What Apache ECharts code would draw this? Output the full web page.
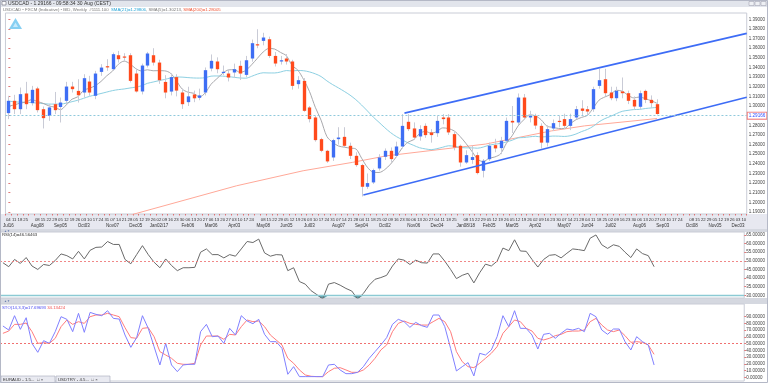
<!DOCTYPE html>
<html><head><meta charset="utf-8">
<script src="https://cdn.jsdelivr.net/npm/echarts@6/dist/echarts.min.js"></script>
<style>html,body{margin:0;padding:0;background:#fff}#c{width:768px;height:383px}</style>
</head><body><div id="c"></div><script>
// ---- categories (weekly) ----
const weeks = [
'2016-07-04','2016-07-11','2016-07-18','2016-07-25','2016-08-01','2016-08-08','2016-08-15','2016-08-22','2016-08-29',
'2016-09-05','2016-09-12','2016-09-19','2016-09-26','2016-10-03','2016-10-10','2016-10-17','2016-10-24','2016-10-31',
'2016-11-07','2016-11-14','2016-11-21','2016-11-28','2016-12-05','2016-12-12','2016-12-19','2016-12-26',
'2017-01-02','2017-01-09','2017-01-16','2017-01-23','2017-01-30','2017-02-06','2017-02-13','2017-02-20','2017-02-27',
'2017-03-06','2017-03-13','2017-03-20','2017-03-27','2017-04-03','2017-04-10','2017-04-17','2017-04-24',
'2017-05-01','2017-05-08','2017-05-15','2017-05-22','2017-05-29','2017-06-05','2017-06-12','2017-06-19','2017-06-26',
'2017-07-03','2017-07-10','2017-07-17','2017-07-24','2017-07-31','2017-08-07','2017-08-14','2017-08-21','2017-08-28',
'2017-09-04','2017-09-11','2017-09-18','2017-09-25','2017-10-02','2017-10-09','2017-10-16','2017-10-23','2017-10-30',
'2017-11-06','2017-11-13','2017-11-20','2017-11-27','2017-12-04','2017-12-11','2017-12-18','2017-12-25',
'2018-01-01','2018-01-08','2018-01-15','2018-01-22','2018-01-29','2018-02-05','2018-02-12','2018-02-19','2018-02-26',
'2018-03-05','2018-03-12','2018-03-19','2018-03-26','2018-04-02','2018-04-09','2018-04-16','2018-04-23','2018-04-30',
'2018-05-07','2018-05-14','2018-05-21','2018-05-28','2018-06-04','2018-06-11','2018-06-18','2018-06-25',
'2018-07-02','2018-07-09','2018-07-16','2018-07-23','2018-07-30','2018-08-06','2018-08-13','2018-08-20','2018-08-27',
'2018-09-03','2018-09-10','2018-09-17','2018-09-24','2018-10-01','2018-10-08','2018-10-15','2018-10-22','2018-10-29',
'2018-11-05','2018-11-12','2018-11-19','2018-11-26','2018-12-03','2018-12-10'];

// ---- USDCAD weekly OHLC ----
const open = [1.2926,1.3054,1.2967,1.3130,1.3030,1.3182,1.2967,1.2898,1.3019,1.2990,
1.3054,1.3202,1.3157,1.3140,1.3254,1.3106,1.3354,1.3413,1.3382,1.3527,
1.3514,1.3527,1.3337,1.3151,1.3420,1.3527,1.3451,1.3250,1.3150,1.3300,
1.3140,1.3040,1.3120,1.3085,1.3140,1.3389,1.3462,1.3344,1.3337,1.3348,
1.3417,1.3323,1.3493,1.3641,1.3676,1.3693,1.3520,1.3462,1.3493,1.3462,
1.3227,1.3261,1.2985,1.2881,1.2656,1.2535,1.2466,1.2656,1.2680,1.2587,
1.2483,1.2387,1.2162,1.2207,1.2352,1.2473,1.2535,1.2483,1.2580,1.2836,
1.2767,1.2684,1.2794,1.2726,1.2718,1.2881,1.2881,1.2708,1.2587,1.2414,
1.2440,1.2490,1.2328,1.2448,1.2594,1.2563,1.2639,1.2846,1.2829,1.3088,
1.2881,1.2898,1.2794,1.2620,1.2767,1.2846,1.2864,1.2794,1.2881,1.2974,
1.2967,1.2967,1.3209,1.3278,1.3140,1.3081,1.3151,1.3133,1.3064,1.2992,
1.3157,1.3064,1.3019];
const close = [1.3054,1.2967,1.3123,1.3019,1.3168,1.2957,1.2874,1.2985,1.2957,1.3036,
1.3202,1.3175,1.3112,1.3289,1.3140,1.3337,1.3399,1.3403,1.3538,1.3486,
1.3503,1.3261,1.3151,1.3420,1.3545,1.3451,1.3268,1.3140,1.3300,1.3160,
1.3019,1.3100,1.3080,1.3110,1.3372,1.3469,1.3382,1.3355,1.3296,1.3382,
1.3337,1.3475,1.3652,1.3631,1.3711,1.3520,1.3441,1.3475,1.3462,1.3209,
1.3268,1.2950,1.2864,1.2646,1.2535,1.2425,1.2646,1.2673,1.2587,1.2483,
1.2387,1.2162,1.2200,1.2335,1.2466,1.2535,1.2449,1.2580,1.2794,1.2760,
1.2673,1.2760,1.2698,1.2698,1.2846,1.2864,1.2726,1.2570,1.2414,1.2490,
1.2470,1.2304,1.2432,1.2587,1.2560,1.2639,1.2846,1.2829,1.3088,1.2881,
1.2898,1.2797,1.2620,1.2760,1.2822,1.2836,1.2794,1.2864,1.2967,1.2950,
1.2943,1.3175,1.3268,1.3133,1.3081,1.3157,1.3133,1.3054,1.2995,1.3133,
1.3064,1.3030,1.2917];
const low = [1.2864,1.2916,1.2916,1.2967,1.3005,1.2933,1.2767,1.2846,1.2916,1.2829,
1.3019,1.3140,1.3036,1.3088,1.3106,1.3071,1.3313,1.3365,1.3365,1.3451,
1.3469,1.3244,1.3140,1.3120,1.3400,1.3420,1.3230,1.3080,1.3110,1.3100,
1.2970,1.3000,1.3040,1.3060,1.3110,1.3360,1.3340,1.3320,1.3255,1.3290,
1.3270,1.3300,1.3460,1.3600,1.3630,1.3500,1.3410,1.3430,1.3430,1.3170,
1.3180,1.2940,1.2830,1.2630,1.2520,1.2410,1.2430,1.2600,1.2570,1.2450,
1.2370,1.2061,1.2140,1.2190,1.2330,1.2440,1.2420,1.2470,1.2560,1.2740,
1.2650,1.2640,1.2670,1.2620,1.2680,1.2810,1.2700,1.2540,1.2370,1.2400,
1.2400,1.2290,1.2259,1.2430,1.2520,1.2500,1.2620,1.2720,1.2800,1.2860,
1.2830,1.2760,1.2560,1.2580,1.2740,1.2780,1.2760,1.2750,1.2860,1.2900,
1.2900,1.2940,1.3180,1.3100,1.3060,1.3050,1.3080,1.3020,1.2960,1.2970,
1.3030,1.2980,1.2910];
const high = [1.3106,1.3116,1.3192,1.3251,1.3209,1.3200,1.2995,1.3019,1.3146,1.3088,
1.3251,1.3251,1.3278,1.3330,1.3313,1.3365,1.3434,1.3486,1.3555,1.3572,
1.3548,1.3548,1.3382,1.3440,1.3562,1.3600,1.3480,1.3320,1.3340,1.3330,
1.3180,1.3200,1.3160,1.3180,1.3400,1.3535,1.3505,1.3420,1.3380,1.3440,
1.3470,1.3520,1.3690,1.3797,1.3760,1.3720,1.3560,1.3520,1.3540,1.3480,
1.3310,1.3290,1.3000,1.2900,1.2670,1.2545,1.2660,1.2780,1.2780,1.2620,
1.2520,1.2400,1.2300,1.2350,1.2500,1.2560,1.2570,1.2630,1.2916,1.2916,
1.2830,1.2800,1.2820,1.2760,1.2900,1.2916,1.2916,1.2730,1.2600,1.2540,
1.2590,1.2520,1.2450,1.2620,1.2660,1.2680,1.2880,1.3000,1.3130,1.3125,
1.2950,1.2920,1.2820,1.2800,1.2860,1.2900,1.2920,1.2920,1.3000,1.3060,
1.3000,1.3200,1.3386,1.3386,1.3200,1.3200,1.3296,1.3160,1.3100,1.3160,
1.3170,1.3110,1.3070];

// ---- moving averages ----
const sma5 = [1.3000,1.3010,1.3030,1.3040,1.3066,1.3047,1.3028,1.3001,1.2988,1.2962,
1.3011,1.3071,1.3096,1.3163,1.3184,1.3211,1.3255,1.3314,1.3363,1.3433,
1.3466,1.3438,1.3388,1.3364,1.3376,1.3366,1.3367,1.3365,1.3341,1.3264,
1.3177,1.3144,1.3132,1.3094,1.3136,1.3226,1.3283,1.3338,1.3375,1.3377,
1.3350,1.3369,1.3428,1.3495,1.3561,1.3598,1.3591,1.3556,1.3522,1.3421,
1.3371,1.3273,1.3151,1.2987,1.2853,1.2684,1.2623,1.2585,1.2573,1.2563,
1.2555,1.2458,1.2364,1.2313,1.2310,1.2340,1.2397,1.2473,1.2565,1.2624,
1.2651,1.2713,1.2737,1.2718,1.2735,1.2773,1.2766,1.2741,1.2684,1.2613,
1.2534,1.2450,1.2422,1.2457,1.2471,1.2504,1.2613,1.2692,1.2792,1.2857,
1.2908,1.2899,1.2857,1.2791,1.2779,1.2767,1.2766,1.2815,1.2857,1.2882,
1.2904,1.2980,1.3061,1.3094,1.3120,1.3163,1.3154,1.3112,1.3084,1.3094,
1.3076,1.3055,1.3028];
const sma21 = [1.3050,1.3045,1.3040,1.3040,1.3035,1.3030,1.3025,1.3020,1.3020,1.3020,
1.3030,1.3045,1.3060,1.3080,1.3100,1.3115,1.3130,1.3145,1.3160,1.3170,
1.3177,1.3187,1.3196,1.3210,1.3235,1.3249,1.3263,1.3276,1.3291,1.3301,
1.3300,1.3295,1.3291,1.3290,1.3294,1.3310,1.3312,1.3310,1.3305,1.3298,
1.3291,1.3289,1.3308,1.3331,1.3345,1.3343,1.3343,1.3353,1.3368,1.3364,
1.3369,1.3366,1.3354,1.3334,1.3306,1.3261,1.3222,1.3188,1.3152,1.3113,
1.3066,1.3010,1.2949,1.2886,1.2831,1.2775,1.2724,1.2683,1.2650,1.2617,
1.2591,1.2567,1.2555,1.2547,1.2557,1.2572,1.2587,1.2583,1.2571,1.2566,
1.2566,1.2562,1.2574,1.2593,1.2604,1.2612,1.2627,1.2645,1.2669,1.2673,
1.2680,1.2686,1.2679,1.2682,1.2688,1.2687,1.2684,1.2691,1.2709,1.2735,
1.2757,1.2790,1.2836,1.2869,1.2893,1.2921,1.2945,1.2955,1.2963,1.2965,
1.2974,1.2980,1.2986];
// SMA(200) read at a few positions: [week index, price]
const sma200Pts = [[18,1.1817],[24.8,1.1930],[39.4,1.2172],[50.9,1.2328],[59.4,1.2415],[65.3,1.2483],[82.4,1.2605],[93.8,1.2742],[99.5,1.2794],[112,1.2870]];
// channel trend lines: [week index, price]
const channelLow = [[61.3,1.2076],[127.5,1.3090]];
const channelHigh = [[68.4,1.2926],[127.5,1.3754]];

// ---- RSI(14) ----
const rsi = [48.9,46.6,50.8,48.5,51.9,47.0,45.0,47.9,47.3,50.2,
54.0,53.0,51.1,55.5,51.1,56.1,57.8,58.0,61.2,59.5,
59.5,50.8,48.3,53.6,58.8,53.6,49.2,46.0,51.1,47.3,
44.3,46.0,46.0,46.2,55.0,56.9,53.6,53.6,51.7,53.6,
52.7,56.9,61.2,60.6,62.6,54.6,52.7,53.6,53.4,44.3,
46.0,38.0,36.5,32.7,30.4,27.9,36.5,37.4,35.9,34.0,
32.5,27.9,31.1,35.9,39.3,40.3,41.6,47.0,51.1,50.4,
47.9,50.4,48.9,48.7,54.0,54.0,49.8,45.0,39.7,41.6,
42.8,37.2,43.1,48.1,47.0,49.8,57.4,55.9,62.2,55.7,
55.5,50.8,46.4,50.8,53.2,53.6,51.7,54.4,56.9,56.5,
55.9,63.1,65.0,59.3,57.2,59.3,58.4,55.0,51.9,56.9,
54.2,53.0,46.6];
// ---- Stochastic ----
const stochK = [76.2,70.2,91.5,71.2,88.5,50.4,37.1,54.4,50.4,67.8,
90.0,86.1,67.8,95.0,66.8,96.4,93.5,91.5,98.9,87.5,
86.5,62.8,44.5,58.9,91.5,72.7,45.5,18.3,50.4,18.3,
8.4,18.3,19.3,19.3,67.8,78.6,60.3,61.3,50.4,72.7,
62.8,91.5,83.6,79.6,86.1,63.8,52.9,52.9,43.0,4.5,
15.8,1.0,1.0,1.0,1.0,1.0,18.3,19.3,10.9,5.4,
5.4,7.4,15.8,28.2,38.1,48.0,58.9,78.6,86.1,82.6,
74.2,81.6,76.7,74.2,92.5,92.5,75.2,43.0,9.4,15.8,
21.8,2.0,35.6,33.1,40.6,60.3,91.5,75.2,98.9,72.7,
72.7,62.8,42.0,63.8,65.3,57.9,65.3,71.7,70.2,72.7,
67.8,95.0,90.0,70.2,63.8,71.7,71.7,52.9,40.6,60.3,
52.9,48.0,18.3];
const stochD = [65.3,68.7,78.6,78.6,80.6,67.8,50.4,51.4,50.4,57.9,
75.2,85.1,78.6,82.6,80.1,90.0,92.5,92.5,95.0,92.5,
90.0,73.7,58.9,57.9,72.7,73.7,60.3,38.1,33.1,28.2,
20.8,19.3,19.3,20.8,48.0,61.3,61.3,61.3,56.4,63.8,
62.8,75.2,85.1,82.6,83.6,75.2,62.8,55.4,48.0,28.2,
20.8,10.9,3.5,1.5,1.0,1.0,8.4,13.4,14.3,10.9,
7.4,7.4,10.9,18.3,28.2,40.6,48.0,67.8,80.1,83.6,
80.1,78.6,77.6,77.6,82.6,87.5,82.6,67.8,38.1,23.2,
15.8,14.3,20.8,28.2,35.6,45.5,65.3,75.2,85.1,82.6,
72.7,68.7,57.9,55.4,57.9,61.8,63.8,67.8,68.7,68.7,
70.2,82.6,87.5,77.6,70.2,67.8,70.2,61.8,51.9,52.9,
51.9,48.0,34.1];

// ---- axis tick labels / levels ----
const priceTicks = [1.19,1.20,1.21,1.22,1.23,1.24,1.25,1.26,1.27,1.28,1.29,1.30,1.31,1.32,1.33,1.34,1.35,1.36,1.37,1.38,1.39];
const rsiTicks = [30,35,40,45,50,55,60,65];
const stochTicks = [0,10,20,30,40,50,60,70,80,90];
const rsiLevels = [50, 30];
const lastPrice = 1.29166, lastRsi = 46.56463, lastK = 17.69693, lastD = 34.13424;

// oversold shading: part of RSI under the 30 level (stacked on the RSI clipped at 30)
const rsiUnder = rsi.map(v => Math.min(v, rsiLevels[1]));
const rsiGap = rsi.map(v => rsiLevels[1] - Math.min(v, rsiLevels[1]));

const MON = ['Jan','Feb','Mar','Apr','May','Jun','Jul','Aug','Sep','Oct','Nov','Dec'];
function dateLabel(v, idx) {
  const p = v.split('-').map(Number);
  const d = p[2];
  if (d === 1) return '';
  const dd = (d < 10 ? '0' : '') + d;
  let first = idx === 0;
  if (!first) {
    const q = weeks[idx - 1].split('-').map(Number);
    first = (q[1] !== p[1]) || (q[2] === 1);
  }
  if (!first) return '{d|' + dd + '}';
  const yy = String(p[0]).slice(2);
  const mon = idx === 0 ? MON[p[1]-1] + yy : MON[p[1]-1] + dd + (p[1] === 1 ? '/' + yy : '');
  return '{d|' + dd + '}\n{m|' + mon + '}';
}

const FONT = 'Liberation Sans, Arial, sans-serif';
const chart = echarts.init(document.getElementById('c'));
const candleData = open.map((o, i) => [i, o, close[i], low[i], high[i]]);

function renderCandle(params, api) {
  const i = api.value(0), o = api.value(1), c = api.value(2), l = api.value(3), h = api.value(4);
  const pO = api.coord([i, o]), pC = api.coord([i, c]), pL = api.coord([i, l]), pH = api.coord([i, h]);
  const w = api.size([1, 0])[0] * 0.58;
  const top = Math.min(pO[1], pC[1]), bot = Math.max(pO[1], pC[1]);
  const x = Math.round(pO[0]) + 0.5;
  return {type: 'group', children: [
    {type: 'line', shape: {x1: x, y1: pH[1], x2: x, y2: pL[1]}, style: {stroke: '#c9cbd6', lineWidth: 1}},
    {type: 'rect', shape: {x: x - w / 2, y: top, width: w, height: Math.max(bot - top, 1.2)},
     style: {fill: c >= o ? '#3e6ef4' : '#ff4a1c'}}
  ]};
}

const boxLabel = (txt, color) => ({
  show: true, position: 'end', distance: 1, formatter: txt,
  fontSize: 4.6, fontFamily: FONT, color: color, backgroundColor: '#fff',
  borderColor: '#f07a7a', borderWidth: 1, padding: [1, 1, 0, 1]
});

const catAxis = (gi, showLabel) => ({
  type: 'category', gridIndex: gi, data: weeks, boundaryGap: true,
  axisLine: {show: false}, axisTick: {show: showLabel, length: 1.5, lineStyle: {color: '#e07070'}},
  splitLine: {show: false},
  axisLabel: showLabel ? {
    show: true, interval: 0, margin: 3, formatter: dateLabel, fontFamily: FONT,
    rich: {d: {fontSize: 4.3, color: '#333', lineHeight: 5.5, fontFamily: FONT},
           m: {fontSize: 4.5, color: '#333', lineHeight: 6, fontFamily: FONT}}
  } : {show: false}
});

const valAxis = (gi, min, max, ticks, dec) => ({
  type: 'value', gridIndex: gi, position: 'right', min: min, max: max,
  axisLine: {show: false}, splitLine: {show: false},
  axisTick: {show: true, length: 2, lineStyle: {color: '#e07a7a'}, customValues: ticks},
  axisLabel: {show: true, fontSize: 4.5, color: '#444', margin: 2, fontFamily: FONT,
              customValues: ticks, formatter: v => v.toFixed(dec)}
});

const option = {
  animation: false,
  backgroundColor: '#fff',
  textStyle: {fontFamily: FONT},
  grid: [
    {left: 0, right: 20, top: 13, height: 201, show: true, borderColor: '#c9ccd6', borderWidth: 1, backgroundColor: '#fff'},
    {left: 0, right: 20, top: 232, height: 66, show: true, borderColor: '#c9ccd6', borderWidth: 1, backgroundColor: '#fff'},
    {left: 0, right: 20, top: 304, height: 77, show: true, borderColor: '#c9ccd6', borderWidth: 1, backgroundColor: '#fff'}
  ],
  xAxis: [
    catAxis(0, true),
    {type: 'value', gridIndex: 0, min: -0.5, max: 127.5, show: false},
    catAxis(1, false),
    catAxis(2, false)
  ],
  yAxis: [
    valAxis(0, 1.18792, 1.39654, priceTicks, 5),
    valAxis(1, 28.46, 66.71, rsiTicks, 5),
    valAxis(2, -5.5, 108.86, stochTicks, 5)
  ],
  series: [
    {type: 'line', name: 'SMA200', xAxisIndex: 1, yAxisIndex: 0, data: sma200Pts, symbol: 'none',
     lineStyle: {color: '#ffa898', width: 1}, clip: true, z: 2},
    {type: 'line', name: 'SMA21', xAxisIndex: 0, yAxisIndex: 0, data: sma21, symbol: 'none', smooth: 0.3,
     lineStyle: {color: '#8dd0e2', width: 1}, z: 2},
    {type: 'line', name: 'SMA5', xAxisIndex: 0, yAxisIndex: 0, data: sma5, symbol: 'none', smooth: 0.3,
     lineStyle: {color: '#a9a9ad', width: 1}, z: 2,
     markLine: {silent: true, symbol: 'none', animation: false,
       data: [{yAxis: lastPrice, lineStyle: {type: [2, 2], color: '#8fc9dc', width: 1}, label: boxLabel('1.29166', '#2f4fff')}]}},
    {type: 'custom', name: 'USDCAD', xAxisIndex: 0, yAxisIndex: 0, data: candleData,
     renderItem: renderCandle, encode: {x: 0, y: [1, 2, 3, 4]}, z: 3},
    {type: 'line', name: 'chLow', xAxisIndex: 1, yAxisIndex: 0, data: channelLow, symbol: 'none',
     lineStyle: {color: '#3d6cf6', width: 1.6}, z: 4},
    {type: 'line', name: 'chHigh', xAxisIndex: 1, yAxisIndex: 0, data: channelHigh, symbol: 'none',
     lineStyle: {color: '#3d6cf6', width: 1.6}, z: 4},
    {type: 'line', name: 'RSIbase', xAxisIndex: 2, yAxisIndex: 1, data: rsiUnder, stack: 'os', symbol: 'none',
     lineStyle: {width: 0, opacity: 0}, z: 1},
    {type: 'line', name: 'RSIfill', xAxisIndex: 2, yAxisIndex: 1, data: rsiGap, stack: 'os', symbol: 'none',
     lineStyle: {width: 0, opacity: 0}, areaStyle: {color: '#5d9ca6', opacity: 1}, z: 1},
    {type: 'line', name: 'RSI', xAxisIndex: 2, yAxisIndex: 1, data: rsi, symbol: 'none',
     lineStyle: {color: '#6a6a6a', width: 1}, z: 3,
     markLine: {silent: true, symbol: 'none', animation: false, data: [
       {yAxis: rsiLevels[0], lineStyle: {type: [2, 2], color: '#f08888', width: 1}, label: {show: false}},
       {yAxis: rsiLevels[1], lineStyle: {type: 'solid', color: '#8ccad4', width: 1.3}, label: {show: false}},
       {yAxis: lastRsi, lineStyle: {opacity: 0}, label: boxLabel('46.56463', '#2f4fff')}
     ]}},
    {type: 'line', name: 'StochD', xAxisIndex: 3, yAxisIndex: 2, data: stochD, symbol: 'none',
     lineStyle: {color: '#ff7c7c', width: 1}, z: 3,
     markLine: {silent: true, symbol: 'none', animation: false, data: [
       {yAxis: 50, lineStyle: {type: [2, 2], color: '#f07070', width: 1}, label: {show: false}},
       {yAxis: lastK, lineStyle: {opacity: 0}, label: boxLabel('17.69693', '#2f4fff')}
     ]}},
    {type: 'line', name: 'StochK', xAxisIndex: 3, yAxisIndex: 2, data: stochK, symbol: 'none',
     lineStyle: {color: '#8080ff', width: 1}, z: 4}
  ],
  graphic: [
    {type: 'rect', z: -10, shape: {x: 0, y: 0, width: 768, height: 7}, style: {fill: '#e2e5ec'}},
    {type: 'rect', z: 10, shape: {x: 2, y: 1.5, width: 4, height: 3.5}, style: {fill: '#fff', stroke: '#667', lineWidth: 0.6}},
    {type: 'text', z: 10, style: {x: 8, y: 0.8, text: 'USDCAD - 1.29166 - 09:58:34 30 Aug (CEST)', fontSize: 5, fill: '#333', font: '5px ' + FONT}},
    {type: 'rect', z: 10, shape: {x: 749, y: 1.5, width: 5, height: 4}, style: {fill: '#eef0f4', stroke: '#99a', lineWidth: 0.5}},
    {type: 'rect', z: 10, shape: {x: 755, y: 1.5, width: 5, height: 4}, style: {fill: '#eef0f4', stroke: '#99a', lineWidth: 0.5}},
    {type: 'rect', z: 10, shape: {x: 761, y: 1.5, width: 5, height: 4}, style: {fill: '#eef0f4', stroke: '#99a', lineWidth: 0.5}},
    {type: 'text', z: 10, style: {x: 3, y: 7.5, fontSize: 4.3, fontFamily: FONT,
      text: '{g|USDCAD \u2022 FXCM (Indicative) \u2022 BID, Weekly  #1111.100  }{c|SMA(21)=1.29806}{g|, SMA(5)=1.30213, }{r|SMA(200)=1.28005}',
      rich: {g: {fontSize: 4.3, fill: '#777', fontFamily: FONT}, c: {fontSize: 4.3, fill: '#21a3d6', fontFamily: FONT}, r: {fontSize: 4.3, fill: '#f05030', fontFamily: FONT}}}},
    {type: 'polygon', z: 10, shape: {points: [[9, 29], [15.5, 18], [22, 29]]}, style: {fill: '#86cff2'}},
    {type: 'polygon', z: 10, shape: {points: [[13, 27], [15.5, 22.5], [18, 27]]}, style: {fill: '#c6e9fb'}},
    {type: 'rect', z: -10, shape: {x: 0, y: 214, width: 768, height: 15}, style: {fill: '#e7e8f0'}},
    {type: 'rect', z: -10, shape: {x: 0, y: 229, width: 768, height: 3}, style: {fill: '#d5d8e0'}},
    {type: 'text', z: 10, style: {x: 4, y: 229.3, text: '\u25B2\u25BC', fontSize: 3, fill: '#6a7fb0', fontFamily: FONT}},
    {type: 'text', z: 10, style: {x: 2, y: 233, text: 'RSI(14)=46.56463', fontSize: 4.3, fill: '#333', fontFamily: FONT}},
    {type: 'rect', z: -10, shape: {x: 0, y: 298, width: 768, height: 6}, style: {fill: '#d5d8e0'}},
    {type: 'text', z: 10, style: {x: 4, y: 299.5, text: '\u25B2\u25BC', fontSize: 3, fill: '#6a7fb0', fontFamily: FONT}},
    {type: 'text', z: 10, style: {x: 2, y: 305.5, fontSize: 4.3, fontFamily: FONT,
      text: '{b|STO(14,3,3)=17.69693 }{r|34.13424}',
      rich: {b: {fontSize: 4.3, fill: '#4a4af0', fontFamily: FONT}, r: {fontSize: 4.3, fill: '#f05050', fontFamily: FONT}}}},
    {type: 'rect', z: 10, shape: {x: 1, y: 376, width: 54, height: 7}, style: {fill: '#e9eaf1', stroke: '#a4a8b8', lineWidth: 0.6}},
    {type: 'text', z: 11, style: {x: 3, y: 377.5, text: 'EURAUD - 1.5...  \u25A1 \u00D7', fontSize: 4.3, fill: '#333', fontFamily: FONT}},
    {type: 'rect', z: 10, shape: {x: 56, y: 376, width: 54, height: 7}, style: {fill: '#e9eaf1', stroke: '#a4a8b8', lineWidth: 0.6}},
    {type: 'text', z: 11, style: {x: 58, y: 377.5, text: 'USDTRY - 4.5...  \u25A1 \u00D7', fontSize: 4.3, fill: '#333', fontFamily: FONT}},
    {type: 'rect', z: 20, shape: {x: 0.5, y: 0.5, width: 767, height: 382}, style: {fill: 'none', stroke: '#b4b8c6', lineWidth: 1}}
  ]
};
chart.setOption(option);
</script></body></html>
